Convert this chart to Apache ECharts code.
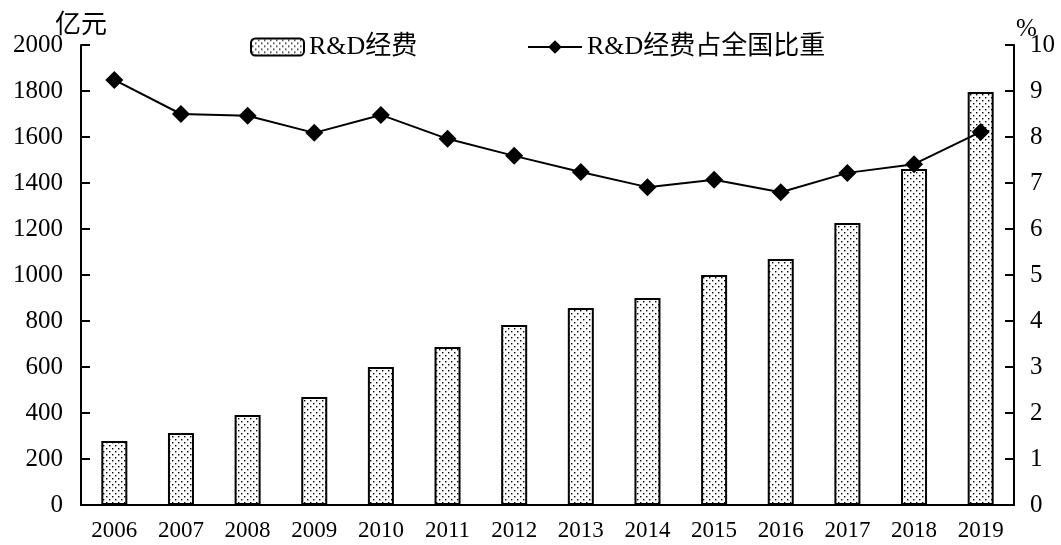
<!DOCTYPE html>
<html><head><meta charset="utf-8">
<script src="https://cdn.jsdelivr.net/npm/echarts@6/dist/echarts.min.js"></script>
<style>html,body{margin:0;padding:0;background:#fff}#c{width:1061px;height:545px}</style>
</head><body><div id="c"></div>
<script>
const years = ['2006','2007','2008','2009','2010','2011','2012','2013','2014','2015','2016','2017','2018','2019'];
const rdSpending = [278, 313, 391, 470, 600, 687, 783, 857, 900, 1000, 1070, 1226, 1461, 1796];
const rdShare = [9.24, 8.50, 8.46, 8.09, 8.48, 7.96, 7.59, 7.24, 6.91, 7.07, 6.80, 7.22, 7.41, 8.11];
const leftTicks = {min: 0, max: 2000, interval: 200};
const rightTicks = {min: 0, max: 10, interval: 1};

const pc = document.createElement('canvas');
pc.width = 6; pc.height = 6;
const g = pc.getContext('2d');
g.fillStyle = '#fff'; g.fillRect(0,0,6,6);
g.fillStyle = '#000';
g.fillRect(1,1,1.4,1.4);
g.fillRect(4,4,1.4,1.4);

const font = 'Liberation Serif, Noto Sans CJK SC, serif';
const numFont = 'Liberation Serif';
const chart = echarts.init(document.getElementById('c'), null, {renderer:'canvas'});
chart.setOption({
  animation: false,
  backgroundColor: '#fff',
  textStyle: {fontFamily: font, color: '#000'},
  grid: {left: 81, right: 47, top: 45, bottom: 40},
  legend: [
    {data: ['R&D经费'], left: 245, top: 29, itemWidth: 53, itemHeight: 17,
     textStyle: {fontFamily: font, fontSize: 26, color: '#000'}},
    {data: ['R&D经费占全国比重'], left: 522, top: 29, itemWidth: 54, itemHeight: 17,
     textStyle: {fontFamily: font, fontSize: 26, color: '#000'}}
  ],
  xAxis: {
    type: 'category', data: years,
    axisLine: {lineStyle: {color: '#000', width: 2}},
    axisTick: {inside: true, length: 9, lineStyle: {color: '#000', width: 2}},
    axisLabel: {fontFamily: numFont, fontSize: 23, color: '#000', margin: 14}
  },
  yAxis: [
    {type: 'value', min: leftTicks.min, max: leftTicks.max, interval: leftTicks.interval,
     name: '亿元', nameLocation: 'end', nameGap: 6, nameMoveOverlap: false,
     nameTextStyle: {fontFamily: font, fontSize: 26, color: '#000', align: 'center'},
     axisLine: {show: true, lineStyle: {color: '#000', width: 2}},
     axisTick: {show: true, inside: true, length: 9, lineStyle: {color: '#000', width: 2}},
     axisLabel: {fontFamily: numFont, fontSize: 25, color: '#000', margin: 18, formatter: v => String(v)},
     splitLine: {show: false}},
    {type: 'value', min: rightTicks.min, max: rightTicks.max, interval: rightTicks.interval,
     name: '%', nameLocation: 'end', nameGap: 3, nameMoveOverlap: false,
     nameTextStyle: {fontFamily: numFont, fontSize: 25, color: '#000', align: 'left', padding: [0,0,0,2]},
     axisLine: {show: true, lineStyle: {color: '#000', width: 2}},
     axisTick: {show: true, inside: true, length: 9, lineStyle: {color: '#000', width: 2}},
     axisLabel: {fontFamily: numFont, fontSize: 25, color: '#000', margin: 16, formatter: v => String(v)},
     splitLine: {show: false}}
  ],
  series: [
    {name: 'R&D经费', type: 'bar', yAxisIndex: 0, data: rdSpending, barWidth: 26,
     itemStyle: {color: {image: pc, repeat: 'repeat'}, borderColor: '#000', borderWidth: 2}},
    {name: 'R&D经费占全国比重', type: 'line', yAxisIndex: 1, data: rdShare,
     symbol: 'diamond', symbolSize: 18,
     lineStyle: {color: '#000', width: 2}, itemStyle: {color: '#000'}}
  ]
});
</script></body></html>
